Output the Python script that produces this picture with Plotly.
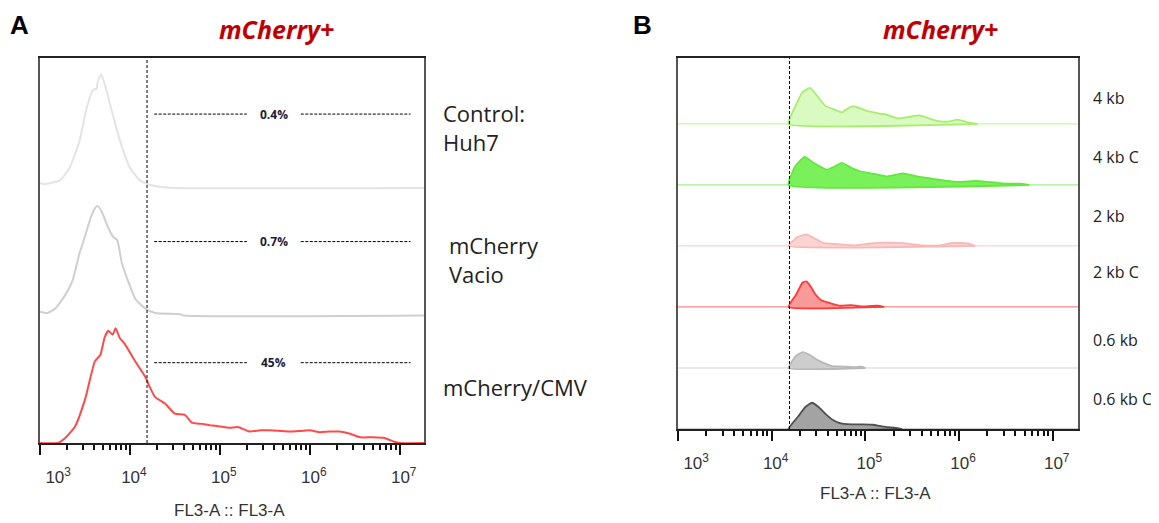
import numpy as np
import plotly.graph_objects as go

W, H = 1159, 523
OFF = 8  # page body margin of the rendered html

# ---------------- DATA ----------------
# Panel A: log10(FL3-A) positions and normalized counts (fraction of row height)
ctrl_logx = [3.0, 3.05, 3.22, 3.33, 3.44, 3.52, 3.59, 3.63, 3.64, 3.68, 3.73, 3.8, 3.89, 4.0, 4.11, 4.2, 4.33, 4.5, 7.27]
ctrl_cnt = [0.04, 0.03, 0.06, 0.16, 0.37, 0.63, 0.77, 0.78, 0.83, 0.89, 0.79, 0.6, 0.37, 0.16, 0.06, 0.03, 0.01, 0.0, 0.0]

vacio_logx = [3.0, 3.08, 3.17, 3.28, 3.36, 3.44, 3.5, 3.56, 3.61, 3.64, 3.69, 3.74, 3.81, 3.86, 3.91, 3.98, 4.06, 4.17, 4.28, 4.56, 4.6, 7.27]
vacio_cnt = [0.03, 0.02, 0.055, 0.16, 0.27, 0.49, 0.62, 0.76, 0.84, 0.86, 0.81, 0.72, 0.62, 0.59, 0.41, 0.27, 0.13, 0.055, 0.02, 0.01, 0.0, 0.0]

cmv_logx = [3.0, 3.2, 3.28, 3.39, 3.5, 3.61, 3.67, 3.72, 3.76, 3.79, 3.81, 3.84, 3.89, 3.94, 4.06, 4.17, 4.22, 4.28,
            4.39, 4.5, 4.61, 4.69, 4.8, 4.89, 5.0, 5.11, 5.2, 5.33, 5.45, 5.56, 5.67, 5.78, 5.9, 6.0, 6.11, 6.22, 6.33,
            6.44, 6.56, 6.7, 6.83, 6.94, 7.0, 7.27]
cmv_cnt = [0.0, 0.0, 0.04, 0.13, 0.34, 0.64, 0.69, 0.83, 0.88, 0.86, 0.85, 0.9, 0.82, 0.78, 0.64, 0.52, 0.44, 0.36,
           0.31, 0.23, 0.22, 0.16, 0.15, 0.14, 0.13, 0.12, 0.125, 0.09, 0.1, 0.1, 0.095, 0.09, 0.095, 0.1, 0.085, 0.09, 0.09,
           0.075, 0.045, 0.045, 0.04, 0.01, 0.0, 0.0]

a_names = ["Control:<br>Huh7", "mCherry<br>Vacio", "mCherry/CMV"]
a_pcts = ["0.4%", "0.7%", "45%"]

# Panel B: gated histograms (start at the threshold)
kb4_logx = [4.18, 4.25, 4.33, 4.41, 4.49, 4.57, 4.66, 4.75, 4.81, 4.87, 4.95, 5.05, 5.15, 5.23, 5.35, 5.45, 5.58, 5.7, 5.8, 5.9, 5.99, 6.08, 6.2]
kb4_cnt = [0.0, 0.28, 0.52, 0.59, 0.45, 0.3, 0.24, 0.19, 0.25, 0.29, 0.25, 0.2, 0.17, 0.15, 0.09, 0.11, 0.14, 0.08, 0.04, 0.04, 0.07, 0.03, 0.0]

kb4c_logx = [4.18, 4.25, 4.35, 4.45, 4.59, 4.67, 4.75, 4.85, 4.95, 5.1, 5.23, 5.4, 5.55, 5.72, 5.85, 6.0, 6.19, 6.3, 6.43, 6.55, 6.65, 6.75]
kb4c_cnt = [0.0, 0.3, 0.46, 0.36, 0.25, 0.3, 0.36, 0.28, 0.22, 0.18, 0.14, 0.19, 0.14, 0.1, 0.07, 0.05, 0.065, 0.05, 0.03, 0.02, 0.02, 0.0]

kb2_logx = [4.18, 4.28, 4.37, 4.45, 4.55, 4.7, 4.9, 5.05, 5.23, 5.4, 5.6, 5.8, 5.93, 6.1, 6.17]
kb2_cnt = [0.0, 0.15, 0.19, 0.13, 0.05, 0.03, 0.01, 0.04, 0.055, 0.045, 0.01, 0.01, 0.05, 0.04, 0.0]

kb2c_logx = [4.18, 4.26, 4.33, 4.37, 4.41, 4.47, 4.53, 4.63, 4.73, 4.85, 4.95, 5.13, 5.2]
kb2c_cnt = [0.0, 0.2, 0.4, 0.42, 0.35, 0.2, 0.11, 0.06, 0.02, 0.03, 0.01, 0.02, 0.0]

kb06_logx = [4.18, 4.26, 4.33, 4.4, 4.48, 4.56, 4.65, 4.73, 4.81, 4.9, 4.97, 5.0]
kb06_cnt = [0.0, 0.2, 0.26, 0.22, 0.14, 0.08, 0.03, 0.025, 0.02, 0.015, 0.02, 0.0]

kb06c_logx = [4.18, 4.28, 4.36, 4.43, 4.5, 4.58, 4.65, 4.72, 4.8, 4.95, 5.08, 5.15, 5.23, 5.32, 5.39]
kb06c_cnt = [0.0, 0.2, 0.36, 0.43, 0.36, 0.24, 0.15, 0.1, 0.08, 0.075, 0.07, 0.05, 0.03, 0.02, 0.0]

b_names = ["4 kb", "4 kb C", "2 kb", "2 kb C", "0.6 kb", "0.6 kb C"]

threshold_log = 4.19
x_range = [3.0, 7.27]
tick_vals = [1e3, 1e4, 1e5, 1e6, 1e7]
tick_text = ["&nbsp;&nbsp;&nbsp;&nbsp;&nbsp;&nbsp;10<sup>3</sup>", "10<sup>4</sup>", "10<sup>5</sup>", "10<sup>6</sup>", "10<sup>7</sup>"]
minor_vals = [m * 10 ** d for d in range(3, 7) for m in range(2, 10)]

# ---------------- FIGURE ----------------
def px(x):
    return (x - OFF) / W

def py(y):
    return 1 - (y - OFF) / H

fig = go.Figure()

a_series = [
    (ctrl_logx, ctrl_cnt, 2, "#e4e4e4"),
    (vacio_logx, vacio_cnt, 1, "#cfcfcf"),
    (cmv_logx, cmv_cnt, 0, "#ff4a4a"),
]
for lx, cnt, off, col in a_series:
    fig.add_trace(go.Scatter(
        x=10 ** np.array(lx), y=np.array(cnt) + off, mode="lines",
        line=dict(color=col, width=2, shape="spline", smoothing=0.5),
        xaxis="x", yaxis="y", showlegend=False, hoverinfo="skip"))

b_series = [
    (kb4_logx, kb4_cnt, 5, "#a6ef6e", "#d9fbc2"),
    (kb4c_logx, kb4c_cnt, 4, "#62e83e", "#7af05a"),
    (kb2_logx, kb2_cnt, 3, "#f7b8b8", "#fbd3d3"),
    (kb2c_logx, kb2c_cnt, 2, "#ff3a3a", "#f99a9a"),
    (kb06_logx, kb06_cnt, 1, "#b8b8b8", "#cdcdcd"),
    (kb06c_logx, kb06c_cnt, 0, "#505050", "#a3a3a3"),
]
for lx, cnt, off, col, fillc in b_series:
    xs = 10 ** np.array(lx)
    ys = np.array(cnt) + off
    fig.add_trace(go.Scatter(
        x=[10 ** x_range[0], 10 ** x_range[1]], y=[off, off], mode="lines",
        line=dict(color=col, width=1.2), opacity=0.6,
        xaxis="x2", yaxis="y2", showlegend=False, hoverinfo="skip"))
    fig.add_trace(go.Scatter(
        x=np.concatenate([xs, [xs[-1], xs[0]]]), y=np.concatenate([ys, [off, off]]),
        mode="lines", fill="toself", fillcolor=fillc,
        line=dict(color=col, width=1.8, shape="spline", smoothing=0.4),
        xaxis="x2", yaxis="y2", showlegend=False, hoverinfo="skip"))

for xa, ya, top in [("x", "y", 3.03), ("x2", "y2", 6.1)]:
    fig.add_trace(go.Scatter(
        x=[10 ** threshold_log, 10 ** threshold_log], y=[0, top], mode="lines",
        line=dict(color="#000000", width=1, dash="3px,2px"),
        xaxis=xa, yaxis=ya, showlegend=False, hoverinfo="skip"))

gate_y = [2.58, 1.58, 0.63]
for gy, pct in zip(gate_y, a_pcts):
    for seg in ([4.27, 5.3], [5.9, 7.12]):
        fig.add_trace(go.Scatter(
            x=10 ** np.array(seg), y=[gy, gy], mode="lines",
            line=dict(color="#000000", width=1, dash="3px,1.5px"),
            xaxis="x", yaxis="y", showlegend=False, hoverinfo="skip"))
    fig.add_annotation(x=5.6, y=gy, xref="x", yref="y", text="<b>" + pct + "</b>",
                       xanchor="center", yanchor="middle",
                       showarrow=False, font=dict(family="Open Sans", size=12, color="#1c1c38"))

axis_common = dict(
    type="log", range=x_range, showgrid=False, zeroline=False, automargin=False,
    showline=True, linecolor="#222222", linewidth=1.5, mirror=True,
    tickmode="array", tickvals=tick_vals, ticktext=tick_text,
    ticks="outside", ticklen=10, tickwidth=2.2, tickcolor="#111111",
    tickfont=dict(family="Liberation Sans", size=17, color="#333333"),
    ticklabelshift=4, ticklabelstandoff=8,
    minor=dict(tickmode="array", tickvals=minor_vals, ticks="outside", ticklen=5, tickwidth=1.5, tickcolor="#111111"),
)
yaxis_common = dict(showgrid=False, zeroline=False, showticklabels=False, ticks="", automargin=False,
                    showline=True, linecolor="#555555", linewidth=1.5, mirror=True)

fig.update_layout(
    width=W, height=H, autosize=False, margin=dict(l=0, r=0, t=0, b=0, pad=0),
    paper_bgcolor="white", plot_bgcolor="white",
    xaxis=dict(domain=[px(40), px(424)], anchor="y", **axis_common),
    yaxis=dict(domain=[py(443), py(58)], range=[0, 3.02], anchor="x", **yaxis_common),
    xaxis2=dict(domain=[px(678), px(1078)], anchor="y2", **axis_common),
    yaxis2=dict(domain=[py(429), py(58)], range=[0, 6.08], anchor="x2", **yaxis_common),
)

def txt(x, y, text, size, family="Open Sans", color="#222222", xanchor="center", align="center"):
    fig.add_annotation(x=px(x), y=py(y), xref="paper", yref="paper", text=text, align=align,
                       xanchor=xanchor, yanchor="middle", showarrow=False,
                       font=dict(family=family, size=size, color=color))

# axis titles
txt(229, 510, "FL3-A :: FL3-A", 17, family="Liberation Sans", color="#333333")
txt(875, 493, "FL3-A :: FL3-A", 17, family="Liberation Sans", color="#333333")

# Panel letters and titles
txt(20, 25, "<b>A</b>", 26, family="Liberation Sans", color="#000000")
txt(642, 25, "<b>B</b>", 26, family="Liberation Sans", color="#000000")
for x in [276, 941]:
    txt(x, 29, "<b><i>mCherry+</i></b>", 25, color="#c00000")

# Panel A row labels
a_label_pos = [(441, 128), (447, 260), (441, 387)]
for (x, y), name in zip(a_label_pos, a_names):
    txt(x, y, name, 22, xanchor="left", align="left")

# Panel B row labels
b_label_y = [98, 157, 216, 272, 340, 399]
for y, name in zip(b_label_y, b_names):
    txt(1091, y, name, 16, xanchor="left", align="left")

fig.write_html("out.html")
